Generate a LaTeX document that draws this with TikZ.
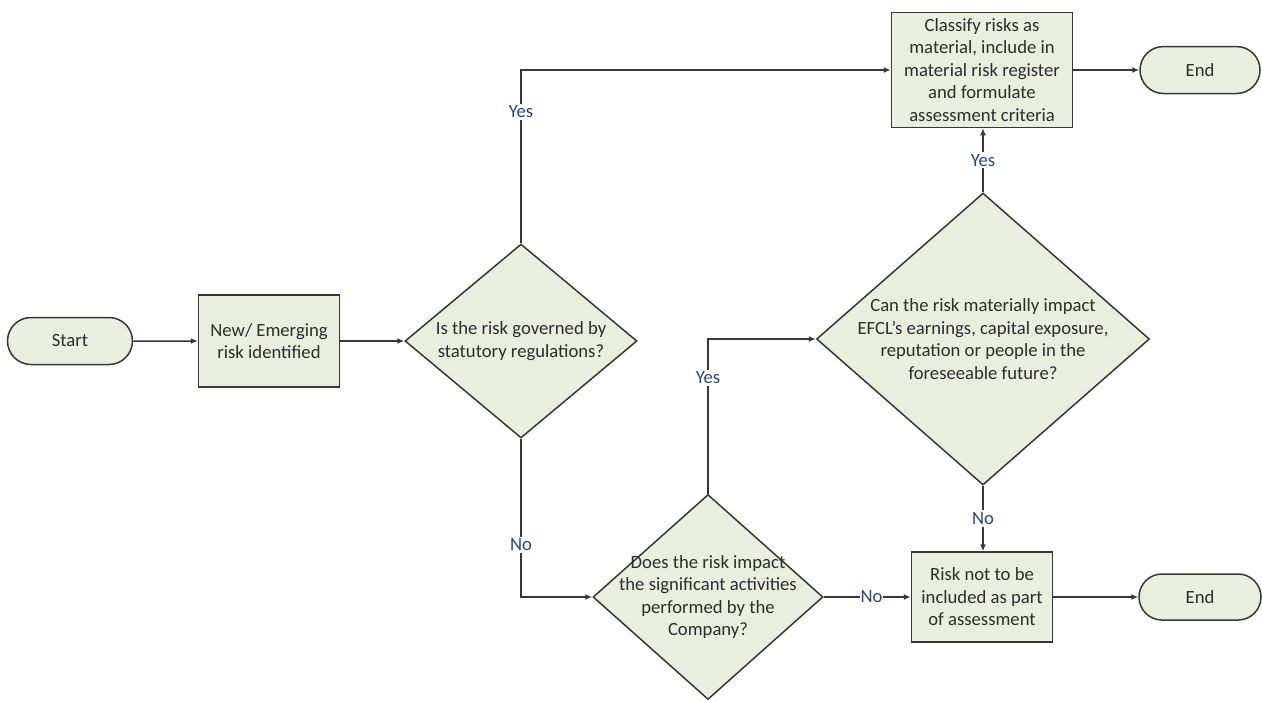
\documentclass[tikz,border=0pt]{standalone}
\usepackage{fontspec}
\setmainfont{Carlito}
\usetikzlibrary{shapes.geometric,shapes.misc,arrows.meta}
\definecolor{fillc}{RGB}{233,238,223}
\definecolor{linec}{RGB}{55,55,55}
\definecolor{textc}{RGB}{45,45,45}
\definecolor{lblc}{RGB}{40,70,130}
\def\pxu{0.75pt}
\tikzset{
  txt/.style={text=textc, font=\fontsize{14pt}{16.9pt}\selectfont, align=center},
  base/.style={draw=linec, fill=fillc, line width=1.5*\pxu, inner sep=0pt, txt},
  term/.style={base, rounded rectangle},
  procbox/.style={base, rectangle},
  decision/.style={base, diamond},
  conn/.style={draw=linec, line width=1.5*\pxu, -{Latex[length=7*\pxu,width=6*\pxu]}},
  lbl/.style={fill=white, inner sep=1.5pt, text=lblc, font=\fontsize{14pt}{14pt}\selectfont}
}
\begin{document}
\begin{tikzpicture}[x=\pxu,y=-\pxu]
\useasboundingbox (0,0) rectangle (1262,700);
\node[term, minimum width=125*\pxu, minimum height=47*\pxu] (start) at (70,341) {Start};
\node[procbox, minimum width=141*\pxu, minimum height=92*\pxu] (new) at (269,341) {New/ Emerging\\risk identified};
\node[decision, minimum width=232*\pxu, minimum height=194*\pxu,
  label={[txt]center:Is the risk governed by\\statutory regulations?}] (d1) at (521,341) {};
\node[decision, minimum width=230*\pxu, minimum height=205*\pxu,
  label={[txt]center:Does the risk impact\\the significant activities\\performed by the\\Company?}] (d2) at (708,597) {};
\node[decision, minimum width=333*\pxu, minimum height=292*\pxu,
  label={[txt]center:Can the risk materially impact\\EFCL’s earnings, capital exposure,\\reputation or people in the\\foreseeable future?}] (d3) at (983,339) {};
\node[procbox, minimum width=181*\pxu, minimum height=115*\pxu] (cls) at (982,70) {Classify risks as\\material, include in\\material risk register\\and formulate\\assessment criteria};
\node[procbox, minimum width=141*\pxu, minimum height=90*\pxu] (risk) at (982,597) {Risk not to be\\included as part\\of assessment};
\node[term, minimum width=120*\pxu, minimum height=47*\pxu] (end1) at (1200,70) {End};
\node[term, minimum width=122*\pxu, minimum height=46*\pxu] (end2) at (1200,597) {End};

\draw[conn] (start) -- (new);
\draw[conn] (new) -- (d1.west);
\draw[conn] (d1.north) -- node[lbl, pos=0.76] {Yes} (d1.north |- cls.west) -- (cls.west);
\draw[conn] (d1.south) -- node[lbl, pos=0.67] {No} (d1.south |- d2.west) -- (d2.west);
\draw[conn] (d2.north) -- node[lbl, pos=0.75] {Yes} (d2.north |- d3.west) -- (d3.west);
\draw[conn] (d2.east) -- node[lbl, pos=0.55, inner sep=0.5pt] {No} (risk.west);
\draw[conn] (d3.north) -- node[lbl, pos=0.5] {Yes} (d3.north |- cls.south);
\draw[conn] (d3.south) -- node[lbl, pos=0.5] {No} (d3.south |- risk.north);
\draw[conn] (cls) -- (end1);
\draw[conn] (risk) -- (end2);
\end{tikzpicture}
\end{document}
